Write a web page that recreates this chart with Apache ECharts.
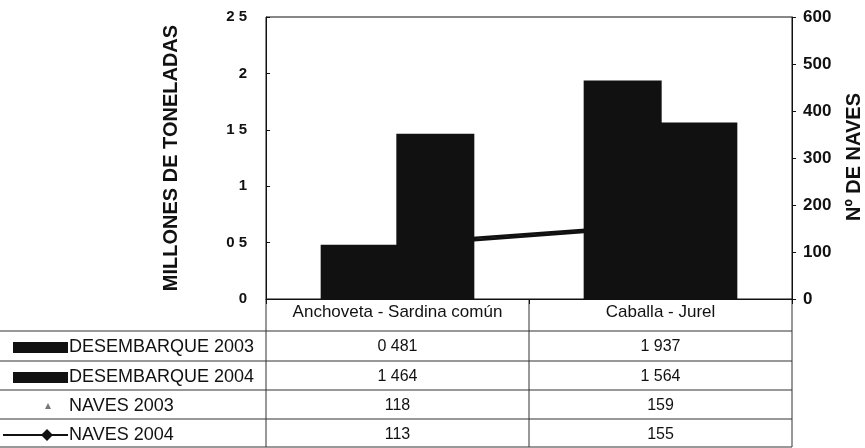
<!DOCTYPE html>
<html>
<head>
<meta charset="utf-8">
<script src="https://cdn.jsdelivr.net/npm/echarts@6/dist/echarts.min.js"></script>
<style>
  html, body { margin: 0; padding: 0; background: #fff; }
  #chart { width: 865px; height: 448px; }
</style>
</head>
<body>
<div id="chart"></div>
<script>
// datos
var categorias = ['Anchoveta - Sardina común', 'Caballa - Jurel'];
var desembarque2003 = [0.481, 1.937];
var desembarque2004 = [1.464, 1.564];
var naves2003 = [118, 159];
var naves2004 = [113, 155];
var filas = ['DESEMBARQUE 2003', 'DESEMBARQUE 2004', 'NAVES 2003', 'NAVES 2004'];

var FONT = '"Liberation Sans", Arial, sans-serif';
var chart = echarts.init(document.getElementById('chart'));

// mismo aspecto que el original: decimal escaneado como espacio
function dec(v, d) {
    return (d ? v.toFixed(d) : String(v)).replace('.', ' ');
}

var option = {
    backgroundColor: '#fff',
    animation: false,
    grid: {
        left: 266, right: 73, top: 17, bottom: 149,
        show: true, borderColor: '#111', borderWidth: 1
    },
    xAxis: {
        type: 'category',
        data: categorias,
        axisLine: { lineStyle: { color: '#111' } },
        axisTick: { show: true, length: 5, lineStyle: { color: '#111' } },
        axisLabel: { interval: 0, color: '#111', fontFamily: FONT, fontSize: 17, margin: 5 }
    },
    yAxis: [
        {
            type: 'value', min: 0, max: 2.5, interval: 0.5,
            splitLine: { show: false },
            axisLine: { show: true, lineStyle: { color: '#111' } },
            axisTick: { show: true, inside: true, length: 4, lineStyle: { color: '#111' } },
            axisLabel: {
                color: '#111', fontFamily: FONT, fontSize: 15, fontWeight: 'bold', margin: 19,
                formatter: function (v) { return dec(v); }
            }
        },
        {
            type: 'value', min: 0, max: 600, interval: 100,
            splitLine: { show: false },
            axisLine: { show: true, lineStyle: { color: '#111' } },
            axisTick: { show: true, length: 4, lineStyle: { color: '#111' } },
            axisLabel: { color: '#111', fontFamily: FONT, fontSize: 17, fontWeight: 'bold', margin: 11 }
        }
    ],
    series: [
        {
            name: 'NAVES 2003', type: 'line', yAxisIndex: 1, z: 1,
            data: naves2003, symbol: 'none',
            lineStyle: { color: '#111', width: 2.6 }
        },
        {
            name: 'NAVES 2004', type: 'line', yAxisIndex: 1, z: 1,
            data: naves2004, symbol: 'none',
            lineStyle: { color: '#111', width: 2.6 }
        },
        {
            name: 'DESEMBARQUE 2003', type: 'bar', z: 3,
            data: desembarque2003, barWidth: 78, barGap: '-3%',
            itemStyle: { color: '#111' }
        },
        {
            name: 'DESEMBARQUE 2004', type: 'bar', z: 3,
            data: desembarque2004, barWidth: 78, barGap: '-3%',
            itemStyle: { color: '#111' }
        }
    ]
};
chart.setOption(option);

// tabla de datos bajo el grafico
var filaY = [347, 377, 406, 435];
var lineasY = [331, 361, 390, 419, 447];
var valores = [
    desembarque2003.map(function (v) { return dec(v, 3); }),
    desembarque2004.map(function (v) { return dec(v, 3); }),
    naves2003.map(String),
    naves2004.map(String)
];
var g = [];
var lineaCol = '#333';

lineasY.forEach(function (y) {
    g.push({ type: 'line', shape: { x1: 0, y1: y, x2: 792, y2: y }, style: { stroke: lineaCol, lineWidth: 1 } });
});
[266, 529, 792].forEach(function (x) {
    g.push({ type: 'line', shape: { x1: x, y1: 299, x2: x, y2: 447 }, style: { stroke: lineaCol, lineWidth: 1 } });
});

filas.forEach(function (nombre, i) {
    g.push({
        type: 'text', x: 69, y: filaY[i],
        style: { text: nombre, fill: '#111', font: '18px ' + FONT, textAlign: 'left', textVerticalAlign: 'middle' }
    });
    categorias.forEach(function (c, j) {
        var x = chart.convertToPixel({ xAxisIndex: 0 }, c);
        g.push({
            type: 'text', x: x, y: filaY[i],
            style: { text: valores[i][j], fill: '#111', font: '16px ' + FONT, textAlign: 'center', textVerticalAlign: 'middle' }
        });
    });
});

// claves de la leyenda
g.push({ type: 'rect', shape: { x: 13, y: filaY[0] - 5, width: 55, height: 11 }, style: { fill: '#111' } });
g.push({ type: 'rect', shape: { x: 13, y: filaY[1] - 5, width: 55, height: 11 }, style: { fill: '#111' } });
g.push({ type: 'polygon', shape: { points: [[45, filaY[2] + 3], [48, filaY[2] - 3], [51, filaY[2] + 3]] }, style: { fill: '#777' } });
g.push({ type: 'line', shape: { x1: 3, y1: filaY[3], x2: 68, y2: filaY[3] }, style: { stroke: '#111', lineWidth: 2 } });
g.push({ type: 'polygon', shape: { points: [[47, filaY[3] - 6], [53, filaY[3]], [47, filaY[3] + 6], [41, filaY[3]]] }, style: { fill: '#111' } });

// titulos de ejes
g.push({
    type: 'text', x: 171, y: 158, rotation: Math.PI / 2,
    style: { text: 'MILLONES DE TONELADAS', fill: '#111', font: 'bold 20px ' + FONT, textAlign: 'center', textVerticalAlign: 'middle' }
});
g.push({
    type: 'text', x: 854, y: 157, rotation: Math.PI / 2,
    style: { text: 'Nº DE NAVES', fill: '#111', font: 'bold 20px ' + FONT, textAlign: 'center', textVerticalAlign: 'middle' }
});

chart.setOption({ graphic: g });
</script>
</body>
</html>
